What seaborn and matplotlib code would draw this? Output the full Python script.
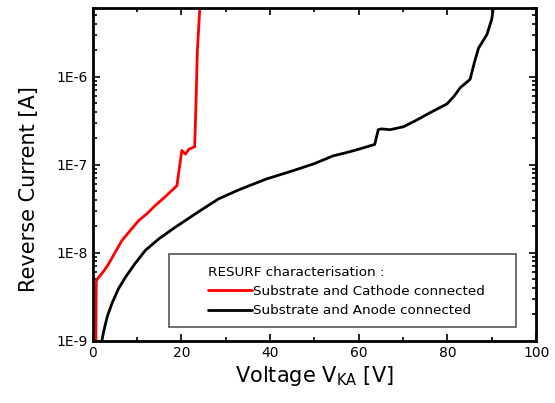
import numpy as np
import pandas as pd
import matplotlib
matplotlib.use('Agg')
import matplotlib.pyplot as plt
import matplotlib.ticker as mticker
from matplotlib.patches import Rectangle
import seaborn as sns

# Curvas (V en voltios, I en amperios)
cathode_v = [0.7, 0.8, 1.0, 2.5, 3.6, 5.0, 6.6, 8.5, 10.4, 12.3, 14.1, 16.5, 19.0,
             20.1, 20.9, 21.7, 23.0, 23.3, 23.6, 24.3]
cathode_i = [8e-10, 4.7e-9, 5.0e-9, 6.2e-9, 7.5e-9, 1.0e-8, 1.38e-8, 1.8e-8, 2.33e-8, 2.8e-8,
             3.44e-8, 4.4e-8, 5.8e-8, 1.45e-7, 1.32e-7, 1.5e-7, 1.6e-7, 5e-7, 1.95e-6, 8e-6]

anode_v = [1.7, 2.5, 3.3, 4.35, 5.8, 7.4, 9.5, 11.9, 15.0, 18.6, 24.2, 28.4, 33.0,
           39.2, 45.0, 50.0, 54.2, 57.4, 60.0, 63.6, 64.4, 65.1, 67.1, 70.1, 73.0,
           76.1, 79.9, 81.5, 82.9, 85.1, 86.0, 87.0, 88.9, 90.0, 90.7]
anode_i = [8e-10, 1.3e-9, 1.9e-9, 2.67e-9, 3.9e-9, 5.3e-9, 7.5e-9, 1.07e-8, 1.45e-8, 1.95e-8,
           3.0e-8, 4.1e-8, 5.2e-8, 6.9e-8, 8.5e-8, 1.03e-7, 1.26e-7, 1.38e-7, 1.5e-7, 1.7e-7,
           2.5e-7, 2.55e-7, 2.5e-7, 2.7e-7, 3.2e-7, 3.9e-7, 4.9e-7, 6.0e-7, 7.5e-7, 9.3e-7,
           1.4e-6, 2.1e-6, 3.0e-6, 4.5e-6, 8e-6]

label_cathode = 'Substrate and Cathode connected'
label_anode = 'Substrate and Anode connected'

df = pd.concat([
    pd.DataFrame({'V': cathode_v, 'I': cathode_i, 'serie': label_cathode}),
    pd.DataFrame({'V': anode_v, 'I': anode_i, 'serie': label_anode}),
])

sns.set_style('ticks')
plt.rcParams['font.family'] = ['DejaVu Sans']
plt.rcParams['text.color'] = 'black'
plt.rcParams['axes.labelcolor'] = 'black'
plt.rcParams['xtick.color'] = 'black'
plt.rcParams['ytick.color'] = 'black'

fig = plt.figure(figsize=(5.55, 4.03), dpi=100)
ax = fig.add_axes([0.167, 0.154, 0.799, 0.826])

sns.lineplot(data=df, x='V', y='I', hue='serie', sort=False,
             palette={label_cathode: '#ff0000', label_anode: '#000000'},
             linewidth=2, ax=ax)

ax.set_yscale('log')
ax.set_xlim(0, 100)
ax.set_ylim(1e-9, 6e-6)
ax.xaxis.set_major_locator(mticker.MultipleLocator(20))
ax.xaxis.set_minor_locator(mticker.MultipleLocator(10))
ax.yaxis.set_major_locator(mticker.LogLocator(base=10, numticks=10))
ax.yaxis.set_minor_locator(mticker.LogLocator(base=10, subs=np.arange(2, 10), numticks=10))
ax.yaxis.set_minor_formatter(mticker.NullFormatter())
ax.yaxis.set_major_formatter(mticker.FuncFormatter(lambda v, p: '1E%d' % round(np.log10(v))))

ax.tick_params(which='both', direction='in', top=True, right=True, labelsize=10, width=1.2)
ax.tick_params(which='major', length=5)
ax.tick_params(which='minor', length=3)
for s in ax.spines.values():
    s.set_linewidth(2)
    s.set_visible(True)
    s.set_color('black')

ax.set_xlabel('Voltage V$_{\\mathregular{KA}}$ [V]', fontsize=15, labelpad=3)
ax.set_ylabel('Reverse Current [A]', fontsize=15)
ax.yaxis.set_label_coords(-0.122, 0.455)

# marco de la leyenda
ax.add_patch(Rectangle((0.171, 0.042), 0.784, 0.219, transform=ax.transAxes,
                       facecolor='white', edgecolor='#555555', linewidth=1.2, zorder=4))
leg = ax.legend(title='RESURF characterisation :', loc='upper left',
                bbox_to_anchor=(0.244, 0.245), frameon=False,
                fontsize=9.7, title_fontsize=9.7, alignment='left',
                handlelength=3.3, handletextpad=0.1, borderpad=0,
                labelspacing=0.5)
leg.set_zorder(5)
leg._legend_box.sep = 4
for line in leg.get_lines():
    line.set_linewidth(2)

fig.savefig('out.png', dpi=100)
